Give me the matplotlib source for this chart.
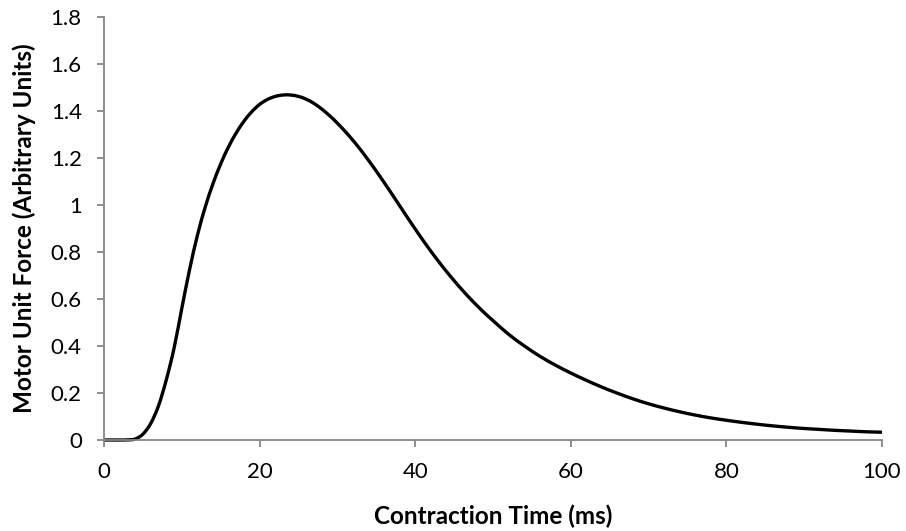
import matplotlib
matplotlib.use("Agg")
import matplotlib.pyplot as plt
import numpy as np
from matplotlib.path import Path
from matplotlib.patches import PathPatch

plt.rcParams['font.family'] = ['Lato', 'DejaVu Sans']

time_ms = [0, 1, 2, 3, 4, 5, 6, 7, 8, 9, 10, 11, 12, 13, 14, 15, 16, 17, 18, 19,
           20, 21, 22, 23, 24, 25, 26, 27, 28, 29, 30, 31, 32, 33, 34, 35, 36, 37,
           38, 39, 40, 41, 42, 43, 44, 45, 46, 47, 48, 49, 50, 52, 54, 56, 58, 60,
           62, 64, 66, 68, 70, 72, 74, 76, 78, 80, 82, 84, 86, 88, 90, 92, 94, 96,
           98, 100]
force = [0, 0, 0, 0.0005, 0.004, 0.025, 0.07, 0.145, 0.255, 0.39, 0.56, 0.725, 0.87,
         0.99, 1.09, 1.175, 1.247, 1.307, 1.357, 1.397, 1.428, 1.449, 1.462, 1.468,
         1.468, 1.462, 1.450, 1.432, 1.408, 1.380, 1.348, 1.313, 1.275, 1.234, 1.190,
         1.144, 1.096, 1.047, 0.997, 0.947, 0.898, 0.850, 0.804, 0.760, 0.718, 0.678,
         0.640, 0.604, 0.570, 0.538, 0.508, 0.450, 0.401, 0.357, 0.319, 0.285, 0.254,
         0.225, 0.199, 0.175, 0.154, 0.136, 0.120, 0.106, 0.094, 0.084, 0.075, 0.067,
         0.060, 0.054, 0.049, 0.045, 0.041, 0.038, 0.035, 0.033]

x_ticks = [0, 20, 40, 60, 80, 100]
y_ticks = [0, 0.2, 0.4, 0.6, 0.8, 1.0, 1.2, 1.4, 1.6, 1.8]
y_tick_labels = ['0', '0.2', '0.4', '0.6', '0.8', '1', '1.2', '1.4', '1.6', '1.8']


def smooth_path(xs, ys):
    """Excel-style smoothed line: Bezier segments through the data points."""
    p = np.column_stack([xs, ys]).astype(float)
    n = len(p)
    verts = [p[0]]
    codes = [Path.MOVETO]
    for i in range(n - 1):
        p0 = p[i - 1] if i > 0 else p[i]
        p1 = p[i]
        p2 = p[i + 1]
        p3 = p[i + 2] if i + 2 < n else p[i + 1]
        c1 = p1 + (p2 - p0) / 6.0
        c2 = p2 - (p3 - p1) / 6.0
        verts += [c1, c2, p2]
        codes += [Path.CURVE4, Path.CURVE4, Path.CURVE4]
    return Path(verts, codes)


fig = plt.figure(figsize=(9.06, 5.31), dpi=100)
ax = fig.add_axes([104 / 906, 1 - 440 / 531, 778 / 906, 423 / 531])

patch = PathPatch(smooth_path(time_ms, force), facecolor='none', edgecolor='black',
                  lw=2.4, capstyle='butt', joinstyle='round', clip_on=False)
ax.add_patch(patch)

ax.set_xlim(0, 100)
ax.set_ylim(0, 1.8)
ax.set_xticks(x_ticks)
ax.set_yticks(y_ticks)
ax.set_yticklabels(y_tick_labels)

axis_col = '#868686'
for s in ['top', 'right']:
    ax.spines[s].set_visible(False)
for s in ['left', 'bottom']:
    ax.spines[s].set_color(axis_col)
    ax.spines[s].set_linewidth(1.3)
ax.tick_params(axis='both', direction='out', length=5, width=1.3, color=axis_col,
               labelsize=16, labelcolor='black')
ax.tick_params(axis='y', pad=11)
ax.tick_params(axis='x', pad=11)

ax.set_xlabel('Contraction Time (ms)', fontsize=17.5, fontweight='bold')
ax.set_ylabel('Motor Unit Force (Arbitrary Units)', fontsize=17.5, fontweight='bold')
ax.xaxis.set_label_coords(0.5, -0.152)
ax.yaxis.set_label_coords(-0.087, 0.5)

fig.savefig('out.png', dpi=100, facecolor='white')
